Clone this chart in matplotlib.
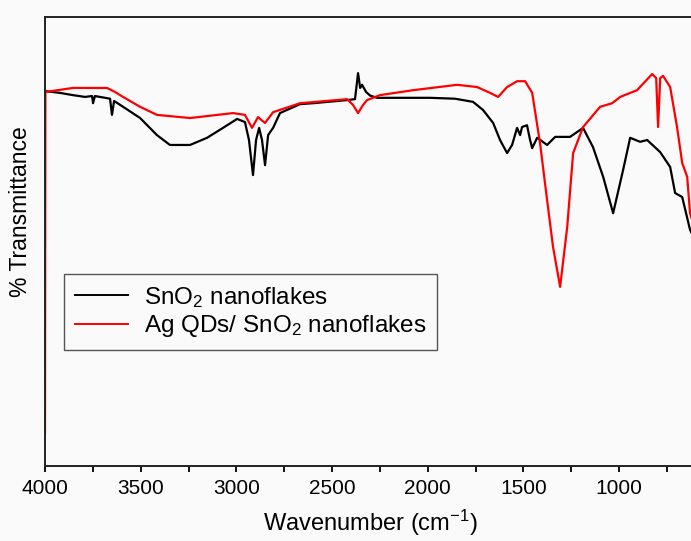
import numpy as np
import matplotlib
matplotlib.use("Agg")
import matplotlib.pyplot as plt
from matplotlib.ticker import MultipleLocator

plt.rcParams['font.family'] = ['Liberation Sans', 'DejaVu Sans']
plt.rcParams['mathtext.fontset'] = 'custom'
plt.rcParams['mathtext.rm'] = 'Liberation Sans'
plt.rcParams['mathtext.it'] = 'Liberation Sans'

# ---- data (wavenumber in cm-1, %T in arbitrary units) ----
sno2_wn = [4000, 3922, 3854, 3791, 3754, 3749, 3739, 3686, 3660, 3650, 3639, 3592,
           3503, 3415, 3347, 3242, 3153, 3070, 2996, 2955, 2934, 2913, 2897, 2881,
           2866, 2850, 2834, 2808, 2772, 2667, 2599, 2421, 2380, 2364, 2353, 2343,
           2322, 2301, 2265, 2144, 1988, 1857, 1763, 1711, 1658, 1622, 1585, 1559,
           1533, 1517, 1507, 1481, 1465, 1454, 1428, 1376, 1334, 1256, 1188, 1136,
           1083, 1031, 979, 942, 890, 853, 785, 733, 707, 670, 629, 603]
sno2_t = [83.5, 83.1, 82.6, 82.2, 82.4, 80.8, 82.4, 82.0, 81.8, 78.2, 81.3, 80.0,
          77.5, 73.7, 71.5, 71.5, 73.1, 75.3, 77.3, 76.6, 72.6, 64.8, 72.6, 75.3,
          72.6, 67.0, 73.7, 75.3, 78.6, 80.6, 80.8, 81.5, 81.7, 87.5, 84.2, 84.9,
          83.3, 82.5, 82.0, 82.0, 82.0, 81.8, 81.1, 79.3, 76.4, 72.6, 69.7, 71.5,
          75.3, 73.7, 75.5, 75.9, 72.6, 70.8, 73.1, 71.5, 73.3, 73.3, 75.3, 71.0,
          64.4, 56.3, 65.9, 73.1, 72.2, 72.6, 69.9, 66.6, 60.8, 59.9, 52.6, 50.3]

ag_wn = [4000, 3998, 3854, 3676, 3634, 3592, 3503, 3415, 3242, 3017, 2955, 2918,
         2887, 2850, 2808, 2667, 2421, 2390, 2364, 2338, 2317, 2249, 2076, 1846,
         1742, 1674, 1632, 1585, 1533, 1491, 1454, 1413, 1376, 1345, 1308, 1271,
         1240, 1188, 1099, 1036, 994, 906, 827, 806, 796, 785, 770, 733, 697, 670,
         644, 629, 603]
ag_t = [7.3, 83.3, 84.2, 84.2, 83.3, 82.2, 80.0, 78.2, 77.5, 78.6, 78.2, 75.3,
        77.7, 76.4, 78.8, 80.8, 81.7, 80.4, 78.6, 80.4, 81.5, 82.6, 83.7, 84.9,
        84.4, 83.1, 82.2, 84.4, 85.7, 85.7, 83.1, 71.9, 59.2, 48.8, 39.9, 53.2,
        69.7, 75.5, 80.0, 80.8, 82.2, 83.7, 87.3, 86.4, 75.5, 86.4, 86.9, 84.4,
        75.5, 67.5, 64.4, 56.3, 52.6]

labels = [r'SnO$_2$ nanoflakes', r'Ag QDs/ SnO$_2$ nanoflakes']

bg = '#fafafa'
fig = plt.figure(figsize=(6.91, 5.41), dpi=100, facecolor=bg)
ax = fig.add_axes([45 / 691, (541 - 466) / 541, 650.6 / 691, 449 / 541], facecolor=bg)

ax.plot(sno2_wn, sno2_t, color='black', lw=1.6, label=labels[0])
ax.plot(ag_wn, ag_t, color='#ff0000', lw=1.6, label=labels[1])

ax.set_xlim(4000, 600)
ax.set_ylim(0, 100)
ax.xaxis.set_major_locator(MultipleLocator(500))
ax.xaxis.set_minor_locator(MultipleLocator(250))
ax.tick_params(axis='x', which='both', direction='out', length=4.5, width=1.3,
               labelsize=15, pad=5)
ax.set_yticks([])
for s in ax.spines.values():
    s.set_linewidth(1.4)
    s.set_color('#222222')

ax.set_xlabel(r'Wavenumber (cm$^{-1}$)', fontsize=17, labelpad=7)
ax.set_ylabel('% Transmittance', fontsize=16.5)
ax.yaxis.set_label_coords(-0.02, 0.566)

leg = ax.legend(loc='upper left', bbox_to_anchor=(0.029, 0.428), borderaxespad=0,
                fontsize=17.5, fancybox=False, edgecolor='#555555', framealpha=1,
                handlelength=2.2, handletextpad=0.65, labelspacing=0.15,
                borderpad=0.45, facecolor=bg)
leg.get_frame().set_linewidth(1.0)
for h in leg.get_lines():
    h.set_linewidth(1.4)

fig.savefig('out.png', dpi=100, facecolor=bg)
